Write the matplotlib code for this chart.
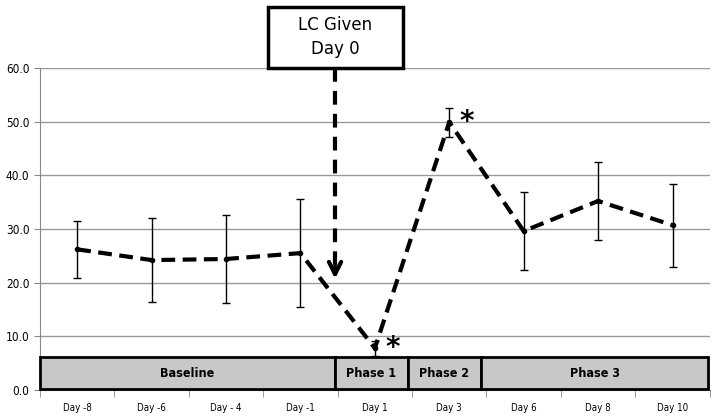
import matplotlib.pyplot as plt
from matplotlib.patches import Rectangle

# data
days = ['Day -8', 'Day -6', 'Day - 4', 'Day -1', 'Day 1', 'Day 3', 'Day 6', 'Day 8', 'Day 10']
means = [26.2, 24.2, 24.4, 25.5, 7.8, 49.9, 29.6, 35.2, 30.7]
errors = [5.3, 7.8, 8.2, 10.1, 1.4, 2.7, 7.2, 7.3, 7.7]
starred = [4, 5]

phases = ['Baseline', 'Phase 1', 'Phase 2', 'Phase 3']
phase_edges = [-0.5, 3.465, 4.446, 5.427, 8.48]
yticks = [0, 10, 20, 30, 40, 50, 60]

fig = plt.figure(figsize=(7.14, 4.2), dpi=100)
ax = fig.add_axes([0.056, 0.0714, 0.938, 0.767])
x = list(range(len(days)))

ax.set_xlim(-0.5, len(days) - 0.5)
ax.set_ylim(0, 60)
ax.set_yticks(yticks)
ax.set_yticklabels(['%.1f' % v for v in yticks], fontsize=8.5, fontstretch='condensed')
ax.grid(axis='y', color='#999999', lw=1)
ax.set_axisbelow(True)

# category labels in the middle, ticks on the boundaries
ax.set_xticks(x)
ax.set_xticklabels(days, fontsize=7, fontstretch='condensed')
ax.tick_params(axis='x', length=0, pad=9)
ax.set_xticks([i - 0.5 for i in range(len(days) + 1)], minor=True)
ax.tick_params(axis='x', which='minor', length=5, color='#888888', direction='out')
ax.tick_params(axis='y', length=4, color='#888888')
for side in ['top', 'right']:
    ax.spines[side].set_visible(False)
ax.spines['left'].set_color('#888888')
ax.spines['bottom'].set_color('#888888')

ax.errorbar(x, means, yerr=errors, fmt='none', ecolor='black', elinewidth=1, capsize=3, capthick=1, zorder=3)
ax.plot(x, means, color='black', lw=3, dashes=(3.3, 1.8), marker='o', markersize=3, zorder=4)

for i in starred:
    ax.text(x[i] + 0.24, means[i], '*', fontsize=20, fontweight='bold', ha='center', va='center', zorder=5)

# phase boxes along the bottom
for name, a, b in zip(phases, phase_edges[:-1], phase_edges[1:]):
    ax.add_patch(Rectangle((a, 0.1), b - a, 6.1, facecolor='#c8c8c8', edgecolor='black', lw=2, zorder=6, clip_on=False))
    ax.text((a + b) / 2, 3.15, name, fontsize=9, fontweight='bold', ha='center', va='center', fontstretch='condensed', zorder=7)

# LC given box and arrow
ax.add_patch(Rectangle((2.565, 60), 1.814, 11.4, facecolor='white', edgecolor='black', lw=2.5, zorder=6, clip_on=False))
ax.text(3.472, 65.7, 'LC Given\nDay 0', fontsize=12, ha='center', va='center', linespacing=1.4, zorder=7, clip_on=False)
ax.plot([3.465, 3.465], [60, 21.5], color='black', lw=3, dashes=(3.3, 2.2), zorder=5)
ax.annotate('', xy=(3.465, 20.2), xytext=(3.465, 23.5),
            arrowprops=dict(arrowstyle='->', lw=3, color='black', mutation_scale=22), zorder=5)

fig.savefig('out.png', dpi=100)
